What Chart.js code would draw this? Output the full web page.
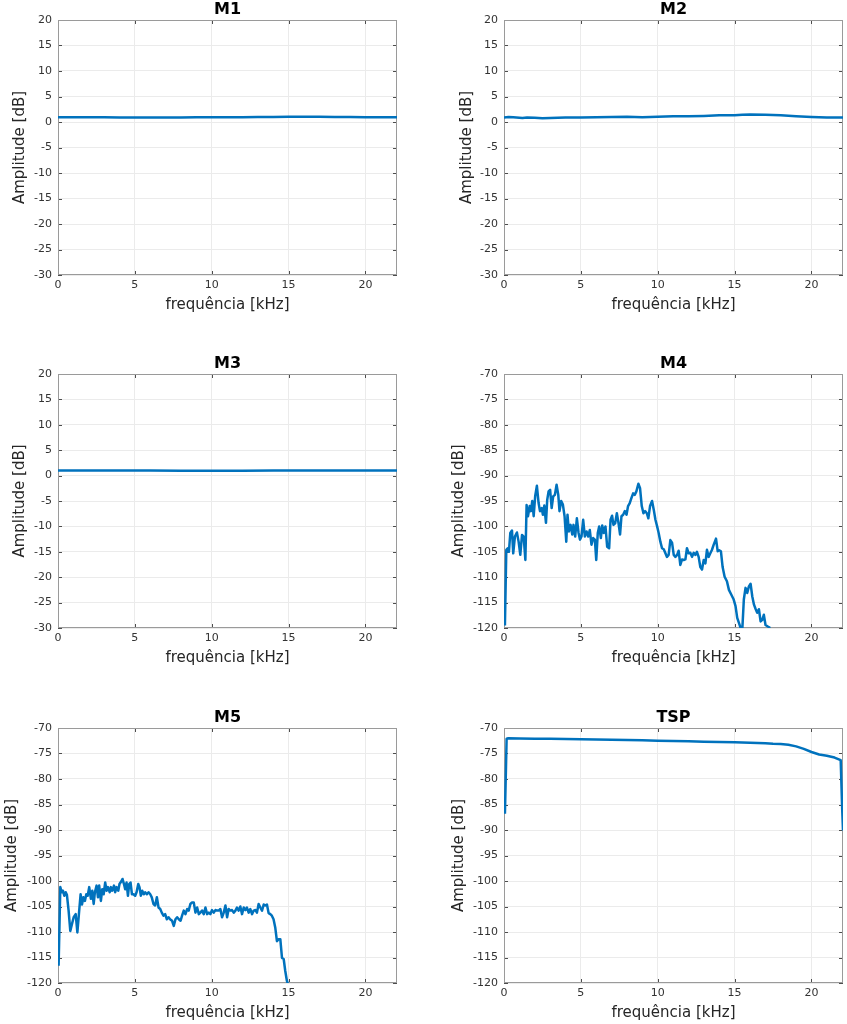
<!DOCTYPE html>
<html><head><meta charset="utf-8">
<script src="https://cdn.jsdelivr.net/npm/chart.js@4.4.1/dist/chart.umd.min.js"></script>
<style>
html,body{margin:0;padding:0;background:#fff;overflow:hidden;width:847px;height:1024px;position:relative}
canvas{position:absolute}
</style></head><body>
<canvas id="c1"></canvas><canvas id="c2"></canvas><canvas id="c3"></canvas>
<canvas id="c4"></canvas><canvas id="c5"></canvas><canvas id="c6"></canvas>
<script>
// ---------- tick labels ----------
const xTicks = [0, 5, 10, 15, 20];
const yTicksUpper = [20, 15, 10, 5, 0, -5, -10, -15, -20, -25, -30];
const yTicksLower = [-70, -75, -80, -85, -90, -95, -100, -105, -110, -115, -120];
const xMax = 22.05;

// ---------- series (frequency kHz / amplitude dB) ----------
const m1Freq = [0,1,2,3,4,5,6,7,8,9,10,11,12,13,14,15,16,17,18,19,20,21,22.05];
const m1Amp  = [0.95,0.95,0.93,0.92,0.9,0.88,0.88,0.9,0.9,0.92,0.93,0.93,0.95,0.97,1.0,1.02,1.03,1.02,1.0,0.98,0.95,0.93,0.92];

const m2Freq = [0,0.3,0.6,1.2,1.5,2,2.5,3,4,5,6,7,8,9,10,11,12,13,14,15,15.5,16,17,18,19,20,21,22.05];
const m2Amp  = [0.9,1.0,0.95,0.8,0.9,0.85,0.75,0.8,0.9,0.9,0.95,1.0,1.05,0.95,1.05,1.15,1.15,1.2,1.3,1.3,1.4,1.45,1.4,1.3,1.15,1.0,0.9,0.9];

const m3Freq = [0,2,4,6,8,10,12,14,16,18,20,22.05];
const m3Amp  = [1.0,1.0,0.98,0.98,0.97,0.97,0.97,0.98,0.98,0.98,0.98,0.98];

const m4Freq = [
 0.06,0.15,0.24,0.32,0.41,0.52,0.6,0.71,0.84,0.95,
 1.06,1.17,1.28,1.39,1.47,1.56,1.67,1.75,1.84,1.93,
 2.03,2.14,2.25,2.34,2.45,2.53,2.62,2.73,2.81,2.9,
 3.0,3.1,3.2,3.31,3.42,3.53,3.61,3.72,3.83,3.94,
 4.05,4.13,4.22,4.33,4.44,4.52,4.63,4.74,4.85,4.94,
 5.04,5.15,5.26,5.37,5.48,5.58,5.69,5.8,5.91,6.0,
 6.1,6.19,6.3,6.39,6.49,6.6,6.71,6.84,6.93,7.03,
 7.12,7.23,7.34,7.45,7.55,7.64,7.75,7.86,7.97,8.07,
 8.18,8.29,8.4,8.5,8.61,8.74,8.85,8.96,9.07,9.18,
 9.29,9.39,9.5,9.63,9.74,9.85,9.96,10.06,10.17,10.28,
 10.39,10.5,10.6,10.71,10.82,10.93,11.04,11.15,11.26,11.36,
 11.47,11.58,11.69,11.8,11.9,12.01,12.12,12.23,12.34,12.45,
 12.55,12.66,12.77,12.88,12.99,13.1,13.2,13.31,13.42,13.53,
 13.64,13.79,13.9,14.0,14.11,14.22,14.35,14.5,14.63,14.78,
 14.94,15.06,15.17,15.28,15.39,15.5,15.6,15.71,15.82,15.93,
 16.04,16.15,16.26,16.36,16.47,16.58,16.69,16.8,16.9,17.01,
 17.16,17.32];
const m4Amp = [
 -119.5,-104.6,-104.3,-105,-101.3,-100.8,-105.3,-102,-101.2,-103,
 -105.6,-101.7,-102,-106.6,-95.8,-98,-96,-97,-95,-98,
 -94,-92,-95.4,-97,-96.4,-97.7,-95.9,-99.3,-94.8,-93.1,
 -92.8,-96.4,-94.1,-93.8,-91.8,-93.8,-97,-95,-95.7,-98,
 -103,-97.7,-101,-99.7,-101.6,-99.7,-102,-98.4,-101.3,-102.6,
 -102,-98.7,-102,-101,-102,-100.7,-103.6,-102.3,-102.6,-106.6,
 -101.3,-100,-102.3,-99.8,-101.3,-100,-104,-104.3,-98.7,-97.9,
 -99.7,-99.4,-97.4,-99.4,-101.6,-98,-97.7,-97,-97.7,-96,
 -95.4,-94.4,-93.5,-93.8,-93.1,-91.6,-92.5,-96,-97.4,-97,
 -97.4,-98.4,-96,-95,-96.7,-98.7,-100,-101.3,-103,-104.3,
 -104.5,-105.3,-106,-105.6,-102.7,-103.2,-105.6,-106,-105.6,-104.8,
 -107.6,-106.5,-106.6,-106.5,-104.3,-105.3,-105.2,-106,-105.2,-105.6,
 -105,-106,-108,-108.5,-106.6,-107.3,-104.6,-106,-105.3,-104.6,
 -103.6,-102.4,-104.9,-104.7,-104.9,-108,-109.9,-110.8,-112.5,-113.4,
 -114.4,-115.7,-118,-119,-120,-120.3,-114.4,-112.1,-113.1,-111.8,
 -111.3,-113.8,-115.4,-116.2,-117,-116.3,-118.7,-118.4,-117.4,-119.4,
 -119.7,-120];

const m5Freq = [
 0.04,0.15,0.24,0.32,0.41,0.5,0.58,0.69,0.8,0.91,
 1.02,1.15,1.26,1.36,1.47,1.56,1.65,1.75,1.84,1.93,
 2.03,2.14,2.23,2.32,2.4,2.51,2.6,2.68,2.79,2.88,
 2.97,3.07,3.16,3.25,3.36,3.44,3.53,3.64,3.72,3.81,
 3.92,4.0,4.11,4.2,4.29,4.37,4.46,4.55,4.63,4.72,
 4.81,4.91,5.02,5.11,5.22,5.3,5.39,5.48,5.58,5.67,
 5.78,5.89,6.0,6.1,6.21,6.32,6.43,6.54,6.65,6.75,
 6.86,6.97,7.08,7.19,7.29,7.42,7.53,7.64,7.75,7.86,
 7.97,8.07,8.18,8.29,8.4,8.5,8.61,8.72,8.83,8.94,
 9.05,9.16,9.26,9.37,9.48,9.59,9.7,9.81,9.91,10.02,
 10.13,10.24,10.35,10.45,10.56,10.67,10.78,10.89,11.0,11.1,
 11.21,11.32,11.43,11.54,11.64,11.75,11.86,11.97,12.08,12.19,
 12.29,12.4,12.51,12.62,12.73,12.84,12.94,13.05,13.16,13.27,
 13.38,13.48,13.59,13.7,13.81,13.91,14.02,14.13,14.24,14.35,
 14.46,14.57,14.68,14.78,14.89,14.96];
const m5Amp = [
 -116.6,-101.2,-102.2,-101.9,-102.9,-102.2,-102.7,-105.8,-109.8,-108.4,
 -107.1,-106.5,-110.1,-106.5,-102.6,-104.6,-103.2,-103.9,-102.6,-102.9,
 -101.2,-103.5,-101.9,-104.5,-102.2,-100.9,-103.2,-100.9,-103.9,-101.6,
 -102.6,-100.3,-101.9,-101.2,-102.2,-101.2,-101.9,-100.9,-102.2,-101.2,
 -101.9,-100.6,-100.1,-99.6,-100.6,-101.6,-100.3,-102.9,-100.6,-100.3,
 -102.6,-102.6,-102.9,-102.2,-100.6,-101.2,-102.9,-101.9,-102.6,-102.2,
 -102.6,-102.2,-102.6,-103.2,-104.5,-104.8,-103.2,-105.2,-105.5,-106.2,
 -106.8,-106.5,-107.5,-107.1,-107.5,-107.8,-108.8,-107.5,-107.1,-107.5,
 -107.8,-106.8,-105.8,-106.5,-105.5,-105.8,-104.5,-104.2,-104.2,-106.2,
 -105.2,-106.5,-106.2,-105.8,-106.5,-105.2,-106.5,-106.2,-106.5,-105.7,
 -106.2,-105.7,-105.8,-105.8,-105.5,-107.1,-106.2,-104.8,-107.1,-105.5,
 -105.8,-105.7,-106.2,-105.8,-105.2,-105.8,-105.0,-106.5,-105.2,-105.7,
 -105.2,-106.2,-105.5,-106.5,-105.8,-105.7,-106.2,-104.5,-105.2,-105.8,
 -104.6,-104.8,-104.6,-106.3,-106.5,-106.8,-107.5,-109.1,-111.8,-111.4,
 -111.4,-115.1,-115.3,-117.6,-119.6,-120.2];

const tspFreq = [0.06,0.13,0.17,0.28,1,2,3,4,5,6,7,8,9,10,11,12,13,14,15,16,17,17.5,18,18.5,19,19.5,20,20.5,20.8,21,21.5,21.9,22.0,22.05];
const tspAmp  = [-86.8,-77.6,-72.1,-72.0,-72.05,-72.1,-72.1,-72.15,-72.2,-72.25,-72.3,-72.35,-72.4,-72.5,-72.55,-72.6,-72.7,-72.75,-72.8,-72.9,-73.0,-73.1,-73.15,-73.3,-73.6,-74.1,-74.7,-75.2,-75.35,-75.45,-75.8,-76.3,-86.1,-90.1];

// ---------- layout (positions only) ----------
const panels = [
  {id:'c1', title:'M1',  freq:m1Freq,  amp:m1Amp,  yTicks:yTicksUpper, left:0,   top:0,   width:420, plotH:255, yAxisW:58, yTitleX:20},
  {id:'c2', title:'M2',  freq:m2Freq,  amp:m2Amp,  yTicks:yTicksUpper, left:420, top:0,   width:427, plotH:255, yAxisW:84, yTitleX:466.7},
  {id:'c3', title:'M3',  freq:m3Freq,  amp:m3Amp,  yTicks:yTicksUpper, left:0,   top:354, width:420, plotH:254, yAxisW:58, yTitleX:20},
  {id:'c4', title:'M4',  freq:m4Freq,  amp:m4Amp,  yTicks:yTicksLower, left:420, top:354, width:427, plotH:254, yAxisW:84, yTitleX:459},
  {id:'c5', title:'M5',  freq:m5Freq,  amp:m5Amp,  yTicks:yTicksLower, left:0,   top:708, width:420, plotH:255, yAxisW:58, yTitleX:12.3},
  {id:'c6', title:'TSP', freq:tspFreq, amp:tspAmp, yTicks:yTicksLower, left:420, top:708, width:427, plotH:255, yAxisW:84, yTitleX:459}
];
const PLOT_W = 339, TITLE_H = 20, XAXIS_H = 41;
const FONT = 'DejaVu Sans';

const matlabBox = {
  id: 'matlabBox',
  beforeDatasetsDraw(chart) {
    const {ctx, chartArea: a, scales} = chart;
    ctx.save();
    ctx.strokeStyle = '#4d4d4d';
    ctx.lineWidth = 1;
    ctx.beginPath();
    const L = 4;
    scales.x.ticks.forEach(t => {
      const px = Math.round(scales.x.getPixelForValue(t.value)) + 0.5;
      ctx.moveTo(px, a.bottom); ctx.lineTo(px, a.bottom - L);
      ctx.moveTo(px, a.top); ctx.lineTo(px, a.top + L);
    });
    scales.y.ticks.forEach(t => {
      const py = Math.round(scales.y.getPixelForValue(t.value)) + 0.5;
      ctx.moveTo(a.left, py); ctx.lineTo(a.left + L, py);
      ctx.moveTo(a.right, py); ctx.lineTo(a.right - L, py);
    });
    ctx.stroke();
    ctx.strokeStyle = '#9a9a9a';
    ctx.strokeRect(Math.round(a.left) + 0.5, Math.round(a.top) + 0.5,
                   Math.round(a.right - a.left) - 1, Math.round(a.bottom - a.top) - 1);
    ctx.restore();
  }
};

panels.forEach(p => {
  const cv = document.getElementById(p.id);
  const h = TITLE_H + p.plotH + XAXIS_H;
  cv.width = p.width; cv.height = h;
  cv.style.left = p.left + 'px'; cv.style.top = p.top + 'px';
  cv.style.width = p.width + 'px'; cv.style.height = h + 'px';
  const rightPad = p.width - p.yAxisW - PLOT_W;
  new Chart(cv, {
    type: 'line',
    data: {
      datasets: [{
        data: p.freq.map((f, i) => ({x: f, y: p.amp[i]})),
        borderColor: '#0072BD',
        borderWidth: 2.5,
        borderJoinStyle: 'round',
        pointRadius: 0,
        tension: 0,
        fill: false
      }]
    },
    options: {
      responsive: false,
      animation: false,
      devicePixelRatio: 1,
      layout: {padding: {left: 0, top: 0, bottom: 0, right: rightPad}},
      plugins: {
        legend: {display: false},
        tooltip: {enabled: false},
        title: {
          display: true, text: p.title, fullSize: false,
          font: {family: FONT, size: 16, weight: 'bold', lineHeight: 1.25},
          color: '#000', padding: 0
        }
      },
      scales: {
        x: {
          type: 'linear', min: 0, max: xMax,
          afterBuildTicks: s => { s.ticks = xTicks.map(v => ({value: v})); },
          afterFit: s => { s.height = XAXIS_H; },
          grid: {color: '#ebebeb', drawTicks: false},
          border: {display: false},
          ticks: {font: {family: FONT, size: 11}, color: '#333', padding: 4, maxRotation: 0, autoSkip: false},
          title: {display: true, text: 'frequência [kHz]', color: '#262626',
                  font: {family: FONT, size: 15, lineHeight: 1.2}, padding: {top: 0, bottom: 2}}
        },
        y: {
          type: 'linear', min: p.yTicks[p.yTicks.length - 1], max: p.yTicks[0],
          afterBuildTicks: s => { s.ticks = p.yTicks.slice().reverse().map(v => ({value: v})); },
          afterFit: s => { s.width = p.yAxisW; },
          grid: {color: '#ebebeb', drawTicks: false},
          border: {display: false},
          ticks: {font: {family: FONT, size: 11}, color: '#333', padding: 6, autoSkip: false},
          title: {display: true, text: 'Amplitude [dB]', color: '#262626',
                  font: {family: FONT, size: 15, lineHeight: 1.2},
                  padding: {top: p.yTitleX - p.left - 9, bottom: 0}}
        }
      }
    },
    plugins: [matlabBox]
  });
});
</script>
</body></html>
